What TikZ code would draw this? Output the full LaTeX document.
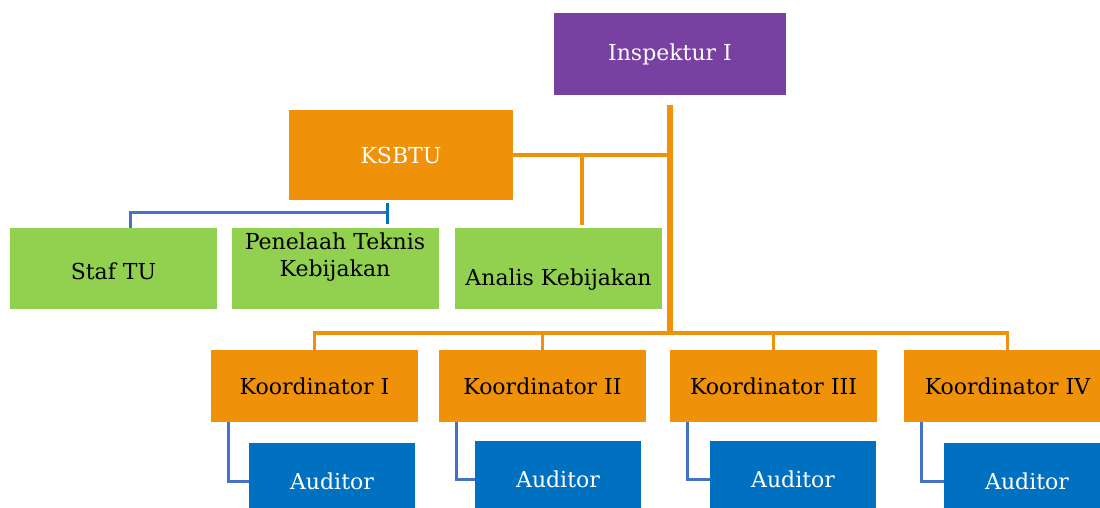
\documentclass[tikz,border=0pt]{standalone}
\usepackage{fontspec}
\setmainfont{DejaVu Serif}
\usepackage{xcolor}
\usetikzlibrary{calc}
\definecolor{inspurple}{HTML}{7840A0}
\definecolor{orgorange}{HTML}{F0910A}
\definecolor{staffgreen}{HTML}{92D050}
\definecolor{audblue}{HTML}{0070C0}
\definecolor{linkblue}{HTML}{4472C4}

\begin{document}
\begin{tikzpicture}[x=1pt,y=-1pt,
    box/.style={rectangle,inner sep=0pt,font=\fontsize{22}{26.5}\selectfont},
    purplebox/.style={box,fill=inspurple,text=white,minimum width=232pt,minimum height=82pt},
    orangebox/.style={box,fill=orgorange,minimum width=207pt,minimum height=72pt},
    greenbox/.style={box,fill=staffgreen,minimum width=207pt,minimum height=81pt},
    bluebox/.style={box,fill=audblue,text=white,minimum width=166pt,minimum height=76pt},
    orangeline/.style={draw=orgorange,line width=3.5pt},
    blueline/.style={draw=linkblue,line width=3pt}]
        \useasboundingbox (0,0) rectangle (1100,508);
        % boxes
        \node[purplebox] (insp) at (670,54) {Inspektur I};
        \node[orangebox,text=white,minimum width=224pt,minimum height=90pt] (ksbtu) at (401,155) {KSBTU};
        \node[greenbox] (staf) at (113.5,268.5) {\raisebox{-11pt}[0pt][0pt]{Staf TU}};
        \node[greenbox] (penelaah) at (335,268.5) {\raisebox{19pt}[0pt][0pt]{\begin{tabular}[t]{@{}c@{}}Penelaah Teknis\\Kebijakan\end{tabular}}};
        \node[greenbox] (analis) at (558.5,268.5) {\raisebox{-17pt}[0pt][0pt]{Analis Kebijakan}};
        \node[orangebox] (koord1) at (314.5,386) {Koordinator I};
        \node[orangebox] (koord2) at (542.5,386) {Koordinator II};
        \node[orangebox] (koord3) at (773.5,386) {Koordinator III};
        \node[orangebox] (koord4) at (1007.5,386) {Koordinator IV};
        \node[bluebox] (aud1) at (332,481) {Auditor};
        \node[bluebox] (aud2) at (558,479) {Auditor};
        \node[bluebox] (aud3) at (793,479) {Auditor};
        \node[bluebox] (aud4) at (1027,481) {Auditor};
        % orange links
        \coordinate (bus) at ([yshift=17pt]insp.south |- koord1.north);
        \draw[orangeline,line width=6pt] ([yshift=-10pt]insp.south) -- (bus);
        \draw[orangeline] (ksbtu.east) -- (ksbtu.east -| insp.south);
        \coordinate (ab) at ([xshift=23.5pt]ksbtu.east -| analis.north);
        \draw[orangeline] (ab) -- ([yshift=3pt]ab |- analis.north);
        \draw[orangeline] (koord1.north) -- ++(0,-17) -| (koord4.north);
        \foreach \k in {2,3}
            \draw[orangeline] (koord\k.north) -- ++(0,-17);
        % blue links
        \coordinate (tu) at ([xshift=-51pt,yshift=-12pt]ksbtu.south -| penelaah.north east);
        \draw[blueline] ([xshift=16.5pt]staf.north) |- (tu);
        \draw[draw=audblue,line width=3pt] ([yshift=9pt]tu) -- ([yshift=-12pt]tu);
        \foreach \k in {1,...,4}
            \draw[blueline] ([xshift=18pt]koord\k.south west) |- (aud\k.west);
    \end{tikzpicture}
\end{document}
